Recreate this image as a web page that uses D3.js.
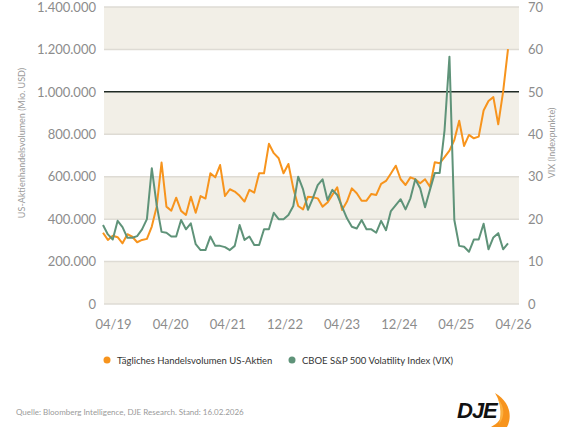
<!DOCTYPE html>
<html>
<head>
<meta charset="utf-8">
<script src="https://cdn.jsdelivr.net/npm/d3@7"></script>
<style>
  body { margin: 0; background: #fff; }
  text { font-family: Lato, "Open Sans", sans-serif; }
</style>
</head>
<body>
<svg class="chart"></svg>
<script>
var width = 576, height = 432;

// monthly values, volume in thousand USD (Mio.), VIX in index points
var volume = [336,302,322,315,286,329,317,291,302,307,365,459,667,459,440,501,439,420,506,430,
    509,497,616,597,655,509,541,530,510,
    483,538,525,616,616,755,711,687,616,660,545,462,446,506,503,498,459,478,514,550,443,
    483,545,522,487,487,519,514,566,
    580,615,652,588,561,597,588,569,588,553,668,663,692,723,773,864,745,797,781,789,
    912,957,975,847,1001,1201];

var vix = [18.6,16.4,15.2,19.6,18.1,15.6,15.6,16.0,17.6,20.0,32.0,23.3,17.0,16.8,15.9,15.9,19.8,17.6,19.0,14.1,
    12.7,12.7,15.9,13.7,13.7,13.4,12.7,13.7,18.6,
    15.1,15.9,13.9,13.9,17.6,17.6,21.5,20.0,20.0,21.0,23.1,30.0,27.0,22.2,24.9,28.0,29.4,24.5,26.9,25.7,22.9,
    20.2,18.2,17.8,19.8,17.6,17.6,16.8,19.6,17.4,21.9,23.3,
    24.7,22.3,24.9,29.4,27.3,22.8,26.9,30.9,30.9,41.0,58.3,19.8,13.7,13.5,12.3,15.2,15.2,18.9,12.9,15.7,16.7,12.9,14.3];

var xLabels = ["04/19","04/20","04/21","12/22","04/23","12/24","04/25","04/26"];
var leftTicks = [0,200000,400000,600000,800000,1000000,1200000,1400000];
var rightTicks = [0,10,20,30,40,50,60,70];
var seriesNames = ["Tägliches Handelsvolumen US-Aktien","CBOE S&P 500 Volatility Index (VIX)"];
var colors = ["#f7941d","#5f9379"];

var chart = d3.select(".chart")
    .attr("width", width)
    .attr("height", height);

var plotLeft = 104, plotRight = 519, plotTop = 7, plotBottom = 304;

var x_scale = d3.scaleLinear()
    .domain([0, volume.length - 1])
    .range([103, 508]);

var label_scale = d3.scalePoint()
    .domain(xLabels)
    .range([113, 513]);

var y_left = d3.scaleLinear()
    .domain([0, 1400000])
    .range([plotBottom, plotTop]);

var y_right = d3.scaleLinear()
    .domain([0, 70])
    .range([plotBottom, plotTop]);

var de = d3.formatLocale({decimal: ",", thousands: ".", grouping: [3], currency: ["", "€"]});
var fmt = de.format(",.0f");

// shaded bands
var bands = chart.append("g");
for (var i = 0; i < leftTicks.length - 1; i += 2) {
    bands.append("rect")
        .attr("x", plotLeft)
        .attr("width", plotRight - plotLeft)
        .attr("y", y_left(leftTicks[i + 1]))
        .attr("height", y_left(leftTicks[i]) - y_left(leftTicks[i + 1]))
        .attr("fill", "#f2efe7");
}

// gridlines
chart.append("g").selectAll("line")
    .data(leftTicks)
    .enter().append("line")
    .attr("x1", plotLeft).attr("x2", plotRight)
    .attr("y1", function(d) { return y_left(d); })
    .attr("y2", function(d) { return y_left(d); })
    .attr("stroke", function(d) { return d == 1000000 ? "#1f2a24" : "#dedbd4"; })
    .attr("stroke-width", 1.5);

// left axis
var leftAxis = chart.append("g")
    .attr("transform", "translate(" + plotLeft + ",0)")
    .call(d3.axisLeft(y_left).tickValues(leftTicks).tickFormat(fmt).tickSize(0).tickPadding(8));
leftAxis.select(".domain").remove();
leftAxis.selectAll("text").attr("font-size", 13).attr("fill", "#8c8c8c").style("font-family", "Lato, sans-serif");

// right axis
var rightAxis = chart.append("g")
    .attr("transform", "translate(" + plotRight + ",0)")
    .call(d3.axisRight(y_right).tickValues(rightTicks).tickSize(0).tickPadding(9));
rightAxis.select(".domain").remove();
rightAxis.selectAll("text").attr("font-size", 13).attr("fill", "#8c8c8c").style("font-family", "Lato, sans-serif");

// x axis labels
var xAxis = chart.append("g")
    .attr("transform", "translate(0," + plotBottom + ")")
    .call(d3.axisBottom(label_scale).tickSize(0).tickPadding(16));
xAxis.select(".domain").remove();
xAxis.selectAll("text").attr("font-size", 13).attr("fill", "#8c8c8c").style("font-family", "Lato, sans-serif");

// axis titles
chart.append("text")
    .attr("transform", "translate(25,143) rotate(-90)")
    .attr("text-anchor", "middle")
    .attr("font-size", 9)
    .attr("fill", "#9a9a9a")
    .text("US-Aktienhandelsvolumen (Mio. USD)");

chart.append("text")
    .attr("transform", "translate(555,143) rotate(-90)")
    .attr("text-anchor", "middle")
    .attr("font-size", 9)
    .attr("fill", "#9a9a9a")
    .text("VIX (Indexpunkte)");

// lines
var volLine = d3.line()
    .x(function(d, i) { return x_scale(i); })
    .y(function(d) { return y_left(d * 1000); });

var vixLine = d3.line()
    .x(function(d, i) { return x_scale(i); })
    .y(function(d) { return y_right(d); });

chart.append("path")
    .datum(volume)
    .attr("d", volLine)
    .attr("fill", "none")
    .attr("stroke", colors[0])
    .attr("stroke-width", 2)
    .attr("stroke-linejoin", "round");

chart.append("path")
    .datum(vix)
    .attr("d", vixLine)
    .attr("fill", "none")
    .attr("stroke", colors[1])
    .attr("stroke-width", 2)
    .attr("stroke-linejoin", "round");

// legend
var legendX = [107, 292];
var legend = chart.selectAll(".legend")
    .data(seriesNames)
    .enter().append("g")
    .attr("class", "legend")
    .attr("transform", function(d, i) { return "translate(" + legendX[i] + ",360)"; });

legend.append("circle")
    .attr("r", 3.5)
    .attr("fill", function(d, i) { return colors[i]; });

legend.append("text")
    .attr("x", 10)
    .attr("y", 3.5)
    .attr("font-size", 9.5)
    .attr("fill", "#333")
    .text(function(d) { return d; });

// source
chart.append("text")
    .attr("x", 16)
    .attr("y", 415)
    .attr("font-size", 8)
    .attr("fill", "#9a9a9a")
    .text("Quelle: Bloomberg Intelligence, DJE Research. Stand: 16.02.2026");

// logo
var logo = chart.append("g").attr("transform", "translate(457,393)");
logo.append("path")
    .attr("d", "M38,0 C52,8 56,22 50,34 L34,34 C42,30 46,24 44,18 C43,10 41,5 38,0 Z")
    .attr("fill", "#f7941d");
logo.append("path")
    .attr("d", "M41,6 C48,14 48,24 42,31 C44,22 44,14 41,6 Z")
    .attr("fill", "#fbb040");
logo.append("text")
    .attr("x", 0)
    .attr("y", 25)
    .attr("font-size", 22)
    .attr("font-weight", "bold")
    .attr("font-style", "italic")
    .attr("fill", "#111")
    .style("font-family", "Liberation Sans, Arial, sans-serif")
    .style("letter-spacing", "-1px")
    .text("DJE");
</script>
</body>
</html>
